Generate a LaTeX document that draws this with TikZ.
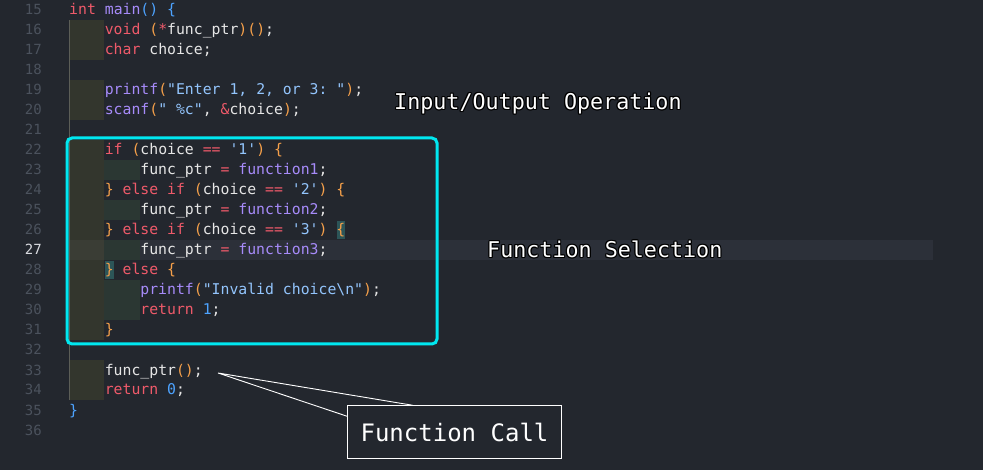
\documentclass[tikz,border=0pt]{standalone}
\usepackage{fontspec}
\setmonofont{DejaVu Sans Mono}
\usepackage{contour}
\contourlength{1.2pt}
\contournumber{8}

\definecolor{bgcol}{HTML}{23272E}
\definecolor{kwcol}{HTML}{EF5A6A}
\definecolor{fncol}{HTML}{A78BFA}
\definecolor{parcol}{HTML}{F5A04A}
\definecolor{blucol}{HTML}{4DA3FF}
\definecolor{strcol}{HTML}{93C5FD}
\definecolor{idcol}{HTML}{E6E6E6}
\definecolor{numcol}{HTML}{4B525D}
\definecolor{curnum}{HTML}{D8DADF}
\definecolor{indone}{HTML}{33362D}
\definecolor{indonecur}{HTML}{3A3D35}
\definecolor{indtwo}{HTML}{2B3733}
\definecolor{curline}{HTML}{2C3039}
\definecolor{matchcol}{HTML}{2C5558}
\definecolor{selcyan}{HTML}{00E8F0}

\newcommand\ckw[1]{\textcolor{kwcol}{#1}}
\newcommand\cfn[1]{\textcolor{fncol}{#1}}
\newcommand\cpar[1]{\textcolor{parcol}{#1}}
\newcommand\cblu[1]{\textcolor{blucol}{#1}}
\newcommand\cstr[1]{\textcolor{strcol}{#1}}

\tikzset{
    code/.style={anchor=base west, inner sep=0pt, text=idcol,
        font=\ttfamily\frenchspacing\fontsize{14.8}{18}\selectfont},
    lnum/.style={anchor=base east, inner sep=0pt, text=numcol,
        font=\ttfamily\fontsize{14}{18}\selectfont},
    lbl/.style={anchor=west, inner sep=0pt, text=white,
        font=\ttfamily\fontsize{21.7}{26}\selectfont},
    selbox/.style={draw=selcyan, line width=3pt, rounded corners=5pt},
    callbox/.style={draw=white, line width=0.9pt, fill=bgcol, text=white,
        minimum width=214pt, minimum height=52.6pt,
        font=\ttfamily\fontsize{24}{28}\selectfont},
    callline/.style={draw=white, line width=0.9pt},
}

\begin{document}
\begin{tikzpicture}[x=1pt,y=-1pt]
    % editor background
    \fill[bgcol] (0,0) rectangle (983,470);
    % current line
    \fill[curline] (70,240) rectangle (933,260);
    % indentation guides
    \fill[indone] (70,20) rectangle (104,60);
    \fill[indone] (70,80) rectangle (104,120);
    \fill[indone] (70,140) rectangle (104,340);
    \fill[indone] (70,360) rectangle (104,400);
    \fill[indonecur] (70,240) rectangle (104,260);
    \fill[indtwo] (104,160) rectangle (140,180);
    \fill[indtwo] (104,200) rectangle (140,220);
    \fill[indtwo] (104,240) rectangle (140,260);
    \fill[indtwo] (104,280) rectangle (140,320);
    \draw[indone!80!white, line width=0.6pt] (69.5,20) -- (69.5,400);
    % matching brackets
    \fill[matchcol] (336.5,221) rectangle (345.4,239);
    \fill[matchcol] (104.6,261) rectangle (113.5,279);

    % line numbers
    \foreach \n in {15,...,36}
        \node[lnum] (n\n) at (42,{20*(\n-15)+15}) {\ifnum\n=27 \color{curnum}\fi\n};

    % code
    \node[code] (l15) at (69,15) {\ckw{int} \cfn{main}\cblu{()} \cblu{\{}};
    \node[code] (l16) at (104.6,35) {\ckw{void} \cpar{(}\ckw{*}func\_ptr\cpar{)()};};
    \node[code] (l17) at (104.6,55) {\ckw{char} choice;};
    \node[code] (l19) at (104.6,95) {\cfn{printf}\cpar{(}\cstr{"Enter 1, 2, or 3: "}\cpar{)};};
    \node[code] (l20) at (104.6,115) {\cfn{scanf}\cpar{(}\cstr{" \%c"}, \ckw{\&}choice\cpar{)};};
    \node[code] (l22) at (104.6,155) {\ckw{if} \cpar{(}choice \ckw{==} \cstr{'1'}\cpar{)} \cpar{\{}};
    \node[code] (l23) at (140.2,175) {func\_ptr \ckw{=} \cfn{function1};};
    \node[code] (l24) at (104.6,195) {\cpar{\}} \ckw{else if} \cpar{(}choice \ckw{==} \cstr{'2'}\cpar{)} \cpar{\{}};
    \node[code] (l25) at (140.2,215) {func\_ptr \ckw{=} \cfn{function2};};
    \node[code] (l26) at (104.6,235) {\cpar{\}} \ckw{else if} \cpar{(}choice \ckw{==} \cstr{'3'}\cpar{)} \cpar{\{}};
    \node[code] (l27) at (140.2,255) {func\_ptr \ckw{=} \cfn{function3};};
    \node[code] (l28) at (104.6,275) {\cpar{\}} \ckw{else} \cpar{\{}};
    \node[code] (l29) at (140.2,295) {\cfn{printf}\cpar{(}\cstr{"Invalid choice\textbackslash n"}\cpar{)};};
    \node[code] (l30) at (140.2,315) {\ckw{return} \cblu{1};};
    \node[code] (l31) at (104.6,335) {\cpar{\}}};
    \node[code] (l33) at (104.6,375) {func\_ptr\cpar{()};};
    \node[code] (l34) at (104.6,395) {\ckw{return} \cblu{0};};
    \node[code] (l35) at (69,415) {\cblu{\}}};

    % selection frame
    \draw[selbox] (67,138) rectangle (437,344);

    % labels
    \node[lbl] (iolbl) at (394,104) {\contour{black}{Input/Output Operation}};
    \node[lbl] (sellbl) at (487,250) {\contour{black}{Function Selection}};

    % callout
    \coordinate (calltip) at (218,373);
    \node[callbox] (calllbl) at (454.5,432) {Function Call};
    \draw[callline] ([xshift=65.5pt]calllbl.north west) -- (calltip)
        -- ([yshift=-11pt]calllbl.north west);
\end{tikzpicture}
\end{document}
